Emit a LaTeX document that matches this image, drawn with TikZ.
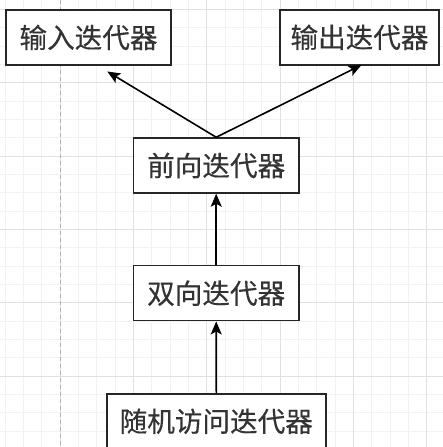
\documentclass[tikz,border=0pt]{standalone}
\usepackage{fontspec}
\setmainfont[FakeBold=0.3]{Noto Sans CJK SC}
\usetikzlibrary{arrows.meta}

\begin{document}
\begin{tikzpicture}[x=1pt,y=-1pt,
  box/.style={draw=black!85,line width=1.5pt,fill=white,inner sep=0pt,
    minimum height=55pt,text=black!80,font=\fontsize{27.6}{31}\selectfont},
  arr/.style={black,line width=1.6pt,-{Stealth[length=13pt,width=11pt,inset=3pt]}},
  minorline/.style={black!5,line width=0.8pt},
  majorline/.style={black!12,line width=0.8pt}]
\useasboundingbox (0,0) rectangle (443,447);
\fill[white] (0,0) rectangle (443,447);
% grid
\foreach \k in {-3,...,20} \draw[minorline] ({60+18.333*\k},0) -- ({60+18.333*\k},447);
\foreach \k in {0,...,24} \draw[minorline] (0,{9.5+18.333*\k}) -- (443,{9.5+18.333*\k});
\foreach \k in {0,...,5} \draw[majorline] ({60+73.333*\k},0) -- ({60+73.333*\k},447);
\foreach \k in {0,...,5} \draw[majorline] (0,{9.5+73.333*\k}) -- (443,{9.5+73.333*\k});
\draw[black!30,line width=1pt,dash pattern=on 4pt off 3pt] (60.5,0) -- (60.5,447);
% boxes
\node[box,minimum width=165pt] (shuru) at (88.5,37.5) {输入迭代器};
\node[box,minimum width=159pt] (shuchu) at (359.5,37.3) {输出迭代器};
\node[box,minimum width=165.5pt] (qianxiang) at (216.2,165.5) {前向迭代器};
\node[box,minimum width=165.5pt] (shuangxiang) at (216.2,293.2) {双向迭代器};
\node[box,minimum width=219pt] (suiji) at (216.3,421.3) {随机访问迭代器};
% arrows
\coordinate (shuruTip) at (107.3,71.5);
\coordinate (shuchuTip) at (361.5,65);
\draw[arr] (qianxiang.north) -- (shuruTip);
\draw[arr] (qianxiang.north) -- (shuchuTip);
\draw[arr] (shuangxiang.north) -- (qianxiang.south);
\draw[arr] (suiji.north) -- (shuangxiang.south);
\end{tikzpicture}
\end{document}
